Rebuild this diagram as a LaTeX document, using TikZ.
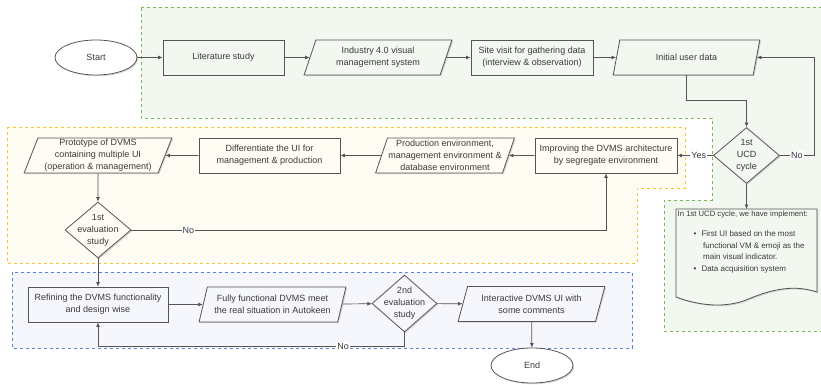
\documentclass[tikz,border=0pt]{standalone}
\usepackage{fontspec}
\setmainfont{Liberation Sans}
\usetikzlibrary{shapes.geometric,shadows,arrows.meta}
\definecolor{edge}{HTML}{555555}
\definecolor{txt}{HTML}{3A3A3A}
\definecolor{grbg}{HTML}{F2F7EF}
\definecolor{grline}{HTML}{7DB858}
\definecolor{yebg}{HTML}{FFFCF4}
\definecolor{yeline}{HTML}{F7C434}
\definecolor{blbg}{HTML}{F6F7FC}
\definecolor{blline}{HTML}{5583D6}
\begin{document}
\begin{tikzpicture}[x=1pt,y=-1pt,
  every node/.style={font=\fontsize{9}{12}\selectfont, text=txt},
  box/.style={draw=edge, line width=0.8pt, minimum height=35pt, align=center, inner sep=1pt,
    drop shadow={shadow xshift=1.2pt, shadow yshift=-1.2pt, opacity=0.3}},
  proc/.style={box, rectangle},
  io/.style={box, trapezium, trapezium left angle=70, trapezium right angle=110,
    trapezium stretches=true, minimum width=147pt},
  decision/.style={box, diamond, minimum width=66pt, minimum height=56pt, inner sep=0pt},
  term/.style={box, ellipse, minimum width=82pt, fill=white},
  region/.style={line width=0.9pt, dash pattern=on 3pt off 3pt},
  arrow/.style={draw=edge, line width=0.7pt, -{Latex[length=4.5pt,width=4pt]}},
  lbl/.style={fill=white, inner sep=1pt},
]
\useasboundingbox (0,0) rectangle (821,385);
% regions
\draw[region, draw=grline, fill=grbg] (141,7) -- (824,7) -- (824,331) -- (664,331) -- (664,200)
  -- (712,200) -- (712,118) -- (141,118) -- cycle;
\draw[region, draw=yeline, fill=yebg] (7,127) -- (685,127) -- (685,188) -- (637,188) -- (637,263)
  -- (7,263) -- cycle;
\draw[region, draw=blline, fill=blbg] (12,272) rectangle (632,348);

% first row
\node[term] (start) at (96,57.5) {Start};
\node[proc, fill=grbg, minimum width=121pt] (lit) at (223.5,57.5) {Literature study};
\node[io, fill=grbg, minimum width=148pt] (ind) at (378,57.5) {Industry 4.0 visual\\management system};
\node[proc, fill=grbg, minimum width=122pt] (site) at (532,57.5) {Site visit for gathering data\\(interview \& observation)};
\node[io, fill=grbg] (init) at (686.5,57.5) {Initial user data};
\node[decision, fill=grbg, label={[align=center]center:1st\\UCD\\cycle}] (ucd) at (746.5,155.5) {};

% note
\draw[edge, line width=0.8pt, fill=grbg, drop shadow={shadow xshift=1.2pt, shadow yshift=-1.2pt, opacity=0.3}]
  (676,209) -- (817,209) -- (817,292) .. controls (790,283) and (765,292) .. (746,300)
  .. controls (725,308) and (700,306) .. (676,297) -- cycle;
\node[anchor=north west, align=left, inner sep=1.5pt, font=\fontsize{8}{11.5}\selectfont] (note) at (676,209)
  {\fontsize{7.7}{11.5}\selectfont In 1st UCD cycle, we have implement:\\[9pt]
   \hspace*{16pt}\textbullet\hspace{5pt}First UI based on the most\\
   \hspace*{25.5pt}functional VM \& emoji as the\\
   \hspace*{25.5pt}main visual indicator.\\
   \hspace*{16pt}\textbullet\hspace{5pt}Data acquisition system};

% second row
\node[proc, fill=yebg, minimum width=142pt] (impr) at (606,155.5) {Improving the DVMS architecture\\by segregate environment};
\node[io, fill=yebg, minimum width=137pt] (prod) at (445,155.5) {Production environment,\\management environment \&\\database environment};
\node[proc, fill=yebg, minimum width=141pt] (diff) at (269.5,155.5) {Differentiate the UI for\\management \& production};
\node[io, fill=yebg, minimum width=148pt] (proto) at (98,155.5) {Prototype of DVMS\\containing multiple UI\\(operation \& management)};
\node[decision, fill=yebg, label={[align=center]center:1st\\evaluation\\study}] (evalA) at (98,230) {};

% third row
\node[proc, fill=blbg, minimum width=140pt] (refine) at (98,304.5) {Refining the DVMS functionality\\and design wise};
\node[io, fill=blbg] (fully) at (272.5,304.5) {Fully functional DVMS meet\\the real situation in Autokeen};
\node[decision, fill=blbg, minimum width=65pt, minimum height=57pt, label={[align=center]center:2nd\\evaluation\\study}] (evalB) at (404.5,303.5) {};
\node[io, fill=blbg] (inter) at (531.5,304) {Interactive DVMS UI with\\some comments};
\node[term] (end) at (532,365.5) {End};

% connectors
\draw[arrow] (start) -- (lit);
\draw[arrow] (lit) -- (ind);
\draw[arrow] (ind) -- (site);
\draw[arrow] (site) -- (init);
\draw[arrow] (init.south) -- ++(0,25) -| (ucd);
\draw[arrow] (ucd.east) -- node[lbl]{No} ++(34,0) |- (init);
\draw[arrow] (ucd.west) -- node[lbl, pos=0.4]{Yes} (impr);
\draw[arrow] (ucd) -- (ucd |- note.north);
\draw[arrow] (impr) -- (prod);
\draw[arrow] (prod) -- (diff);
\draw[arrow] (diff) -- (proto);
\draw[arrow] (proto) -- (evalA);
\draw[arrow] (evalA.east) -| node[lbl, pos=0.06]{No} (impr);
\draw[arrow] (evalA) -- (refine);
\draw[arrow] (refine) -- (fully);
\draw[arrow] (fully) -- (evalB);
\draw[arrow] (evalB) -- (inter);
\draw[arrow] (evalB.south) -- ++(0,14) -| node[lbl, pos=0.1]{No} (refine);
\draw[arrow] (inter) -- (end);
\end{tikzpicture}
\end{document}
